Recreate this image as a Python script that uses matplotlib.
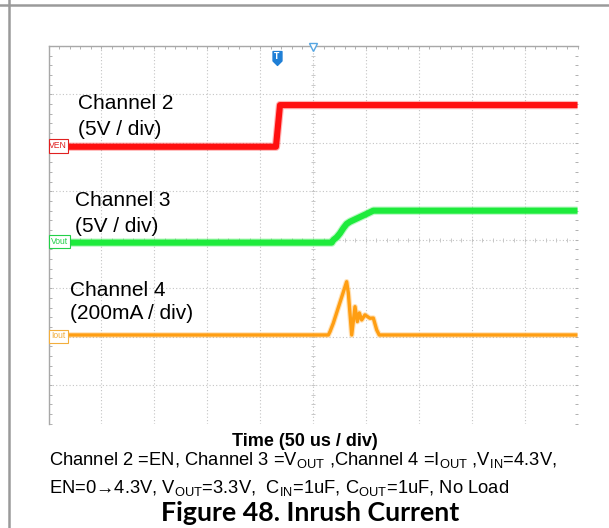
import numpy as np
import matplotlib
matplotlib.use("Agg")
import matplotlib.pyplot as plt
from matplotlib.path import Path
from matplotlib.lines import Line2D
from matplotlib.patches import Rectangle

# ---------------- data (read from the scope shot) ----------------
en_time_us = [0, 215, 218.8, 500]
en_volts = [0, 0, 4.3, 4.3]

vout_time_us = [0, 267.7, 269.2, 272.4, 275.5, 278.6, 281.8, 285, 300.8, 307, 500]
vout_volts = [0, 0, 0.27, 0.55, 0.96, 1.48, 1.93, 2.16, 2.97, 3.3, 3.3]

iout_time_us = [0, 264.5, 266.1, 269.2, 281.8, 283.4, 286.6, 289.7, 291.9,
                293.8, 296, 299.1, 303.8, 307, 310.2, 312.6, 500]
iout_ma = [0, 0, 14, 49, 220, 173, 0, 117, 55, 91, 62, 83, 69, 70, 21, 0, 0]

trigger_time_us = 216
center_time_us = 250

channel_labels = ["Channel 2", "(5V / div)", "Channel 3", "(5V / div)",
                  "Channel 4", "(200mA / div)"]
marker_labels = ["VEN", "Vout", "Iout"]
xlabel = "Time (50 us / div)"
caption1 = r"Channel 2 =EN, Channel 3 =V$_{\mathrm{OUT}}$ ,Channel 4 =I$_{\mathrm{OUT}}$ ,V$_{\mathrm{IN}}$=4.3V,"
caption2 = r"EN=0→4.3V, V$_{\mathrm{OUT}}$=3.3V,  C$_{\mathrm{IN}}$=1uF, C$_{\mathrm{OUT}}$=1uF, No Load"
title = "Figure 48. Inrush Current"

# ---------------- scope settings ----------------
time_per_div = 50.0
en_scale, en_offset = 5.0, 5.92        # V/div, ground position (div)
vout_scale, vout_offset = 5.0, 3.94
iout_scale, iout_offset = 200.0, 2.033

plt.rcParams['mathtext.fontset'] = 'custom'
plt.rcParams['mathtext.rm'] = 'Liberation Sans'
plt.rcParams['mathtext.it'] = 'Liberation Sans:italic'
plt.rcParams['mathtext.bf'] = 'Liberation Sans:bold'

W, H = 609, 528
fig = plt.figure(figsize=(W / 100, H / 100), dpi=100)
fig.patch.set_facecolor('white')


def fx(px):
    return px / W


def fy(py):
    return 1 - py / H


ax_l, ax_r, ax_t, ax_b = 48.5, 577.5, 46.0, 424.0
ax = fig.add_axes([fx(ax_l), fy(ax_b), (ax_r - ax_l) / W, (ax_b - ax_t) / H])
y_bottom = 8 - (ax_b - ax_t) / 48.43
ax.set_xlim(0, 10 * time_per_div)
ax.set_ylim(y_bottom, 8)

# graticule
gcol = '#C4C4C4'
ax.set_xticks(np.arange(0, 501, time_per_div))
ax.set_xticks(np.arange(0, 501, time_per_div / 5), minor=True)
ax.set_yticks(np.arange(1, 9, 1))
ax.set_yticks(np.arange(0.2, 8.01, 0.2), minor=True)
ax.grid(which='major', linestyle=(0, (1, 2)), color=gcol, linewidth=0.8)
ax.tick_params(which='both', direction='in', length=2.5, width=0.7, color='#B0B0B0',
               top=True, left=True, right=True, bottom=False,
               labelleft=False, labelbottom=False)
for s in ['right', 'bottom']:
    ax.spines[s].set_visible(False)
for s in ['left', 'top']:
    ax.spines[s].set_color('#A8A8A8')
    ax.spines[s].set_linewidth(1.0)

# centre-line ticks
px_per_us = (ax_r - ax_l) / 500
px_per_div = 48.43
dx = 2.0 / px_per_us
dy = 2.0 / px_per_div
yt = np.arange(0.2, 8.0, 0.2)
ax.hlines(yt, center_time_us - dx, center_time_us + dx, color='#C0C0C0', lw=0.6, zorder=1)
xt = np.arange(10, 500, 10)
ax.vlines(xt, 4 - dy, 4 + dy, color='#C0C0C0', lw=0.6, zorder=1)

# traces
def trace(t, v, scale, offset, color, lw):
    y = offset + np.asarray(v, dtype=float) / scale
    ax.plot(t, y, color=color, lw=lw + 1.6, alpha=0.3, solid_capstyle='butt', zorder=3)
    ax.plot(t, y, color=color, lw=lw, solid_capstyle='butt', zorder=4)

trace(en_time_us, en_volts, en_scale, en_offset, '#FF1010', 4.4)
trace(vout_time_us, vout_volts, vout_scale, vout_offset, '#1EEB3C', 4.4)
trace(iout_time_us, iout_ma, iout_scale, iout_offset, '#FF9E12', 2.4)

# trigger markers at top
tpath = Path([(-0.32, 0.5), (0.32, 0.5), (0.32, -0.18), (0, -0.5), (-0.32, -0.18), (-0.32, 0.5)],
             [Path.MOVETO, Path.LINETO, Path.LINETO, Path.LINETO, Path.LINETO, Path.CLOSEPOLY])
ty = 8 - 12 / px_per_div
ax.plot([trigger_time_us], [ty], marker=tpath, ms=10, color='#1F7FD6', mec='#1F7FD6',
        zorder=6, clip_on=False)
ax.text(trigger_time_us, ty + 0.04, 'T', color='white', fontsize=5.5, fontweight='bold',
        ha='center', va='center', zorder=7, family='DejaVu Sans')
ax.plot([center_time_us], [8 - 1.5 / px_per_div], marker='v', ms=5.5, mfc='white',
        mec='#55A6E3', mew=1.0, zorder=6, clip_on=False)

# channel ground markers
box_specs = [
    (marker_labels[0], 48.5, 139, 19, 13.5, '#E02020'),
    (marker_labels[1], 48.5, 235, 21, 13, '#22D048'),
    (marker_labels[2], 48.5, 329.5, 19, 13, '#F2AE3C'),
]
for lab, x0, y0, w, h, c in box_specs:
    fig.add_artist(Rectangle((fx(x0), fy(y0 + h)), w / W, h / H, transform=fig.transFigure,
                             facecolor='white', edgecolor=c, lw=0.8, zorder=8))
    fig.text(fx(x0 + w / 2 + 0.3), fy(y0 + h / 2), lab, color=c, fontsize=6.2,
             family='Liberation Sans',
             ha='center', va='center', zorder=9)

# channel text
ch_font = dict(fontsize=15, family='Liberation Sans', color='black', va='baseline')
fig.text(fx(78), fy(109), channel_labels[0], **ch_font)
fig.text(fx(78), fy(135), channel_labels[1], **ch_font)
fig.text(fx(75), fy(205.5), channel_labels[2], **ch_font)
fig.text(fx(75), fy(231.5), channel_labels[3], **ch_font)
fig.text(fx(70), fy(296.5), channel_labels[4], **ch_font)
fig.text(fx(70), fy(319), channel_labels[5], **ch_font)

# outer frame lines
fig.add_artist(Line2D([0, 1], [fy(4.5), fy(4.5)], transform=fig.transFigure,
                      color='#9A9A9A', lw=1.8))
fig.add_artist(Line2D([fx(8.5), fx(8.5)], [0, 1], transform=fig.transFigure,
                      color='#9A9A9A', lw=1.8))

# captions
fig.text(fx(305), fy(446), xlabel, fontsize=13, fontweight='bold', family='Liberation Sans',
         ha='center', va='baseline')
fig.text(fx(49), fy(465), caption1, fontsize=13.2, family='Liberation Sans', va='baseline')
fig.text(fx(49), fy(493), caption2, fontsize=13.2, family='Liberation Sans', va='baseline')
fig.text(fx(310), fy(521), title, fontsize=19.3, fontweight='bold', family='Lato',
         ha='center', va='baseline')

fig.savefig('out.png', dpi=100)
